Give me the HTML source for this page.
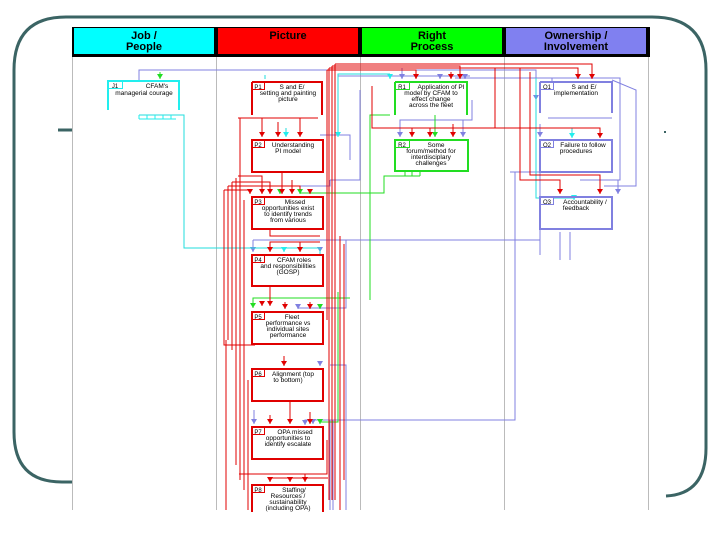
<!DOCTYPE html>
<html><head><meta charset="utf-8"><style>
html,body{margin:0;padding:0;background:#fff;width:720px;height:540px;overflow:hidden}
svg{display:block}
text{font-family:"Liberation Sans",sans-serif}
</style></head><body>
<svg width="720" height="540" viewBox="0 0 720 540" xmlns="http://www.w3.org/2000/svg">
<defs>
<marker id="ar" markerWidth="6" markerHeight="5" refX="3" refY="5" orient="0" markerUnits="userSpaceOnUse"><path d="M0,0 L6,0 L3,5z" fill="#e00000"/></marker>
<marker id="ab" markerWidth="6" markerHeight="5" refX="3" refY="5" orient="0" markerUnits="userSpaceOnUse"><path d="M0,0 L6,0 L3,5z" fill="#8080e0"/></marker>
<marker id="ag" markerWidth="6" markerHeight="5" refX="3" refY="5" orient="0" markerUnits="userSpaceOnUse"><path d="M0,0 L6,0 L3,5z" fill="#22dd22"/></marker>
<marker id="ac" markerWidth="6" markerHeight="5" refX="3" refY="5" orient="0" markerUnits="userSpaceOnUse"><path d="M0,0 L6,0 L3,5z" fill="#22eeee"/></marker>
</defs>
<!-- teal frame -->
<path d="M72,482 L62,482 Q14,482 14,432 L14,70 Q14,17 66,17 L652,17 Q706,17 706,70 L706,448 Q706,494 666,496" fill="none" stroke="#3b6464" stroke-width="3"/>
<line x1="58" y1="130" x2="72" y2="130" stroke="#3b6464" stroke-width="3"/>
<rect x="664" y="131" width="2" height="2" fill="#3b6464"/>
<!-- image area -->
<rect x="72" y="27" width="578" height="483" fill="#fff"/>
<g stroke="#bbbbbb" stroke-width="1">
<line x1="72.5" y1="56" x2="72.5" y2="510"/><line x1="216.5" y1="56" x2="216.5" y2="510"/><line x1="360.5" y1="56" x2="360.5" y2="510"/><line x1="504.5" y1="56" x2="504.5" y2="510"/><line x1="648.5" y1="56" x2="648.5" y2="510"/>
</g>
<rect x="72" y="27" width="578" height="30" fill="#000"/>
<rect x="74" y="28" width="140" height="26" fill="#00ffff"/>
<rect x="218" y="28" width="140" height="26" fill="#ff0000"/>
<rect x="362" y="28" width="140" height="26" fill="#00ff00"/>
<rect x="506" y="28" width="140" height="26" fill="#8080f0"/>
<g font-size="11" text-anchor="middle" fill="#000" font-weight="bold">
<text x="144" y="39">Job /</text><text x="144" y="50">People</text>
<text x="288" y="39">Picture</text>
<text x="432" y="39">Right</text><text x="432" y="50">Process</text>
<text x="576" y="39">Ownership /</text><text x="576" y="50">Involvement</text>
</g>

<!-- connectors: blue -->
<g fill="none" stroke="#8080e0" stroke-width="1">
<path d="M139,80 L139,70 L536,70 L536,100" marker-end="url(#ab)"/>
<path d="M402,68 L402,79" marker-end="url(#ab)"/>
<path d="M440,74 L440,79" marker-end="url(#ab)"/>
<path d="M455,78 L465,78 L465,79" marker-end="url(#ab)"/>
<path d="M465,78 L620,78 L620,180 L580,180"/>
<path d="M552,78 L552,82" />
<path d="M472,100 L472,120 L400,120 L400,137" marker-end="url(#ab)"/>
<path d="M463,120 L463,137" marker-end="url(#ab)"/>
<path d="M338,82 L338,76 L470,76"/>
<path d="M320,135 L350,135 L350,160"/>
<path d="M540,124 L540,137" marker-end="url(#ab)"/>
<path d="M618,180 L618,194" marker-end="url(#ab)"/>
<path d="M510,172 L540,172 L540,230 L540,255"/>
<path d="M515,172 L515,420 L305,420 L305,425" marker-end="url(#ab)"/>
<path d="M253,240 L540,240"/>
<path d="M253,240 L253,252" marker-end="url(#ab)"/>
<path d="M320,248 L320,252" marker-end="url(#ab)"/>
<path d="M346,240 L346,308 L298,308" />
<path d="M298,306 L298,309" marker-end="url(#ab)"/>
<path d="M330,365 L346,365 L346,510"/><path d="M320,365 L320,366" marker-end="url(#ab)"/>
<path d="M330,420 L330,510"/><path d="M333,420 L333,510"/>
<path d="M313,420 L313,424" marker-end="url(#ab)"/>
<path d="M254,410 L254,424" marker-end="url(#ab)"/>
<path d="M287,186 L330,186 L330,180"/>
<path d="M360,90 L360,180 L330,180"/>
<path d="M604,186 L636,186 L636,90 L612,80"/>
<path d="M560,232 L560,260"/><path d="M570,232 L570,260"/>
</g>
<!-- cyan -->
<g fill="none" stroke="#22dddd" stroke-width="1">
<path d="M139,115 L184,115 L184,248 L320,248 L320,256"/>
<path d="M265,75 L265,79"/>
<path d="M390,74 L390,79" marker-end="url(#ac)"/>
<path d="M390,74 L338,74 L338,137" marker-end="url(#ac)"/>
<path d="M286,128 L286,137" marker-end="url(#ac)"/>
<path d="M536,78 L536,198 L574,198 L574,200" marker-end="url(#ac)"/>
<path d="M572,128 L572,138" marker-end="url(#ac)"/>
<path d="M284,248 L284,252" marker-end="url(#ac)"/>
</g>
<!-- green -->
<g fill="none" stroke="#22dd22" stroke-width="1">
<path d="M160,72 L160,79" marker-end="url(#ag)"/>
<path d="M390,115 L370,115 L370,300"/>
<path d="M435,115 L435,137" marker-end="url(#ag)"/>
<path d="M395,176 L384,176 L384,193 L300,193"/>
<path d="M300,191 L300,194" marker-end="url(#ag)"/>
<path d="M280,190 L280,194" marker-end="url(#ag)"/>
<path d="M350,298 L253,298 L253,308" marker-end="url(#ag)"/>
<path d="M320,306 L320,309" marker-end="url(#ag)"/>
<path d="M338,292 L338,422 L320,422 L320,424" marker-end="url(#ag)"/>
</g>
<!-- red -->
<g fill="none" stroke="#e00000" stroke-width="1">
<path d="M329,68 L329,500"/><path d="M332,66 L332,500"/><path d="M335,64 L335,500"/><path d="M327,70 L327,320"/>
<path d="M329,68 L578,68 L578,79" marker-end="url(#ar)"/>
<path d="M332,66 L460,66 L460,79" marker-end="url(#ar)"/>
<path d="M335,64 L592,64 L592,79" marker-end="url(#ar)"/>
<path d="M327,70 L416,70 L416,79" marker-end="url(#ar)"/>
<path d="M451,72 L451,79" marker-end="url(#ar)"/>
<path d="M495,68 L495,128"/>
<path d="M372,86 L372,128 L600,128 L600,138" marker-end="url(#ar)"/>
<path d="M412,128 L412,137" marker-end="url(#ar)"/>
<path d="M430,128 L430,137" marker-end="url(#ar)"/>
<path d="M453,124 L453,137" marker-end="url(#ar)"/>
<path d="M520,68 L520,180 L560,180 L560,194" marker-end="url(#ar)"/>
<path d="M530,72 L530,175 L600,175 L600,194" marker-end="url(#ar)"/>
<path d="M240,118 L240,160"/>
<path d="M238,118 L300,118 L300,125 L300,137" marker-end="url(#ar)"/>
<path d="M262,118 L262,137" marker-end="url(#ar)"/>
<path d="M278,122 L278,137" marker-end="url(#ar)"/>
<path d="M282,172 L282,194" marker-end="url(#ar)"/>
<path d="M238,176 L262,176 L262,194" marker-end="url(#ar)"/>
<path d="M232,182 L270,182 L270,194" marker-end="url(#ar)"/>
<path d="M228,186 L300,186 L300,190"/>
<path d="M224,190 L250,190 L250,194" marker-end="url(#ar)"/>
<path d="M292,180 L292,194" marker-end="url(#ar)"/>
<path d="M310,190 L310,194" marker-end="url(#ar)"/>
<path d="M224,190 L224,345 L255,345"/>
<path d="M228,186 L228,340"/><path d="M232,182 L232,350"/><path d="M236,178 L236,465"/>
<path d="M240,160 L240,480"/><path d="M244,200 L244,490"/>
<path d="M226,340 L226,510"/><path d="M248,380 L248,510"/>
<path d="M270,229 L270,236 L320,236"/>
<path d="M320,242 L270,242 L270,252" marker-end="url(#ar)"/>
<path d="M300,242 L300,252" marker-end="url(#ar)"/>
<path d="M340,236 L340,510"/><path d="M344,244 L344,480"/>
<path d="M270,286 L270,306" marker-end="url(#ar)"/>
<path d="M262,302 L262,306" marker-end="url(#ar)"/>
<path d="M285,302 L285,309" marker-end="url(#ar)"/>
<path d="M310,302 L310,309" marker-end="url(#ar)"/>
<path d="M284,356 L284,366" marker-end="url(#ar)"/>
<path d="M290,401 L290,424" marker-end="url(#ar)"/>
<path d="M270,415 L270,424" marker-end="url(#ar)"/>
<path d="M310,412 L310,424" marker-end="url(#ar)"/>
<path d="M239,474 L327,474 L327,440"/>
<path d="M328,478 L270,478 L270,482" marker-end="url(#ar)"/>
<path d="M290,478 L290,482" marker-end="url(#ar)"/>
<path d="M305,474 L305,482" marker-end="url(#ar)"/>
</g>

<!-- nodes -->
<g fill="none" stroke-width="2">
<path d="M108,110 L108,81 L179,81 L179,110" stroke="#22eeee"/>
<path d="M252,82 L252,115 M252,82 L322,82 L322,115" stroke="#e00000"/>
<path d="M395,82 L395,115 M395,82 L467,82 L467,115" stroke="#22dd22"/>
<path d="M540,82 L540,113 M540,82 L612,82 L612,113" stroke="#8080e0"/>
<rect x="252" y="140" width="71" height="32" stroke="#e00000"/>
<rect x="395" y="140" width="73" height="31" stroke="#22dd22"/>
<rect x="540" y="140" width="72" height="32" stroke="#8080e0"/>
<rect x="252" y="197" width="71" height="32" stroke="#e00000"/>
<rect x="540" y="197" width="72" height="32" stroke="#8080e0"/>
<rect x="252" y="255" width="71" height="31" stroke="#e00000"/>
<rect x="252" y="312" width="71" height="32" stroke="#e00000"/>
<rect x="252" y="369" width="71" height="32" stroke="#e00000"/>
<rect x="252" y="427" width="71" height="32" stroke="#e00000"/>
<path d="M252,512 L252,485 L323,485 L323,512" stroke="#e00000"/>
</g>
<g fill="#fff" stroke-width="1">
<rect x="108.5" y="81.5" width="14" height="7" stroke="#22eeee"/>
<rect x="252.5" y="82.5" width="12" height="7" stroke="#e00000"/>
<rect x="395.5" y="82.5" width="14" height="7" stroke="#22dd22"/>
<rect x="540.5" y="82.5" width="13" height="7" stroke="#8080e0"/>
<rect x="252.5" y="140.5" width="12" height="7" stroke="#e00000"/>
<rect x="395.5" y="140.5" width="14" height="7" stroke="#22dd22"/>
<rect x="540.5" y="140.5" width="13" height="7" stroke="#8080e0"/>
<rect x="252.5" y="197.5" width="12" height="7" stroke="#e00000"/>
<rect x="540.5" y="197.5" width="13" height="7" stroke="#8080e0"/>
<rect x="252.5" y="255.5" width="12" height="7" stroke="#e00000"/>
<rect x="252.5" y="312.5" width="12" height="7" stroke="#e00000"/>
<rect x="252.5" y="369.5" width="12" height="7" stroke="#e00000"/>
<rect x="252.5" y="427.5" width="12" height="7" stroke="#e00000"/>
<rect x="252.5" y="485.5" width="12" height="7" stroke="#e00000"/>
</g>
<!-- output stubs -->
<g stroke-width="1" fill="none">
<path d="M139,115 L139,119 M147,115 L147,119 M155,115 L155,119 M163,115 L163,119 M171,115 L171,119 M139,119 L176,119" stroke="#22eeee"/>
<path d="M238,118 L258,118 M262,118 L318,118" stroke="#e00000"/>
<path d="M395,171 L420,171 M405,171 L405,176 M412,171 L412,176 M420,171 L420,176 M395,176 L420,176" stroke="#22dd22"/>
<path d="M548,118 L612,118" stroke="#8080e0"/>
</g>
<g font-size="6.5" fill="#000" text-anchor="middle">
<text x="115" y="88" font-size="6">J1</text><text x="157" y="88">CFAM's</text><text x="144" y="95">managerial courage</text>
<text x="258" y="89" font-size="6">P1</text><text x="292" y="89">S and E/</text><text x="288" y="95">setting and painting</text><text x="288" y="101">picture</text>
<text x="402" y="89" font-size="6">R1</text><text x="441" y="89">Application of PI</text><text x="431" y="95">model by CFAM to</text><text x="431" y="101">effect change</text><text x="431" y="107">across the fleet</text>
<text x="547" y="89" font-size="6">O1</text><text x="584" y="89">S and E/</text><text x="576" y="95">implementation</text>
<text x="258" y="147" font-size="6">P2</text><text x="293" y="147">Understanding</text><text x="288" y="153">PI model</text>
<text x="402" y="147" font-size="6">R2</text><text x="436" y="147">Some</text><text x="431" y="153">forum/method for</text><text x="431" y="159">interdisciplary</text><text x="431" y="165">challenges</text>
<text x="547" y="147" font-size="6">O2</text><text x="583" y="147">Failure to follow</text><text x="576" y="153">procedures</text>
<text x="258" y="204" font-size="6">P3</text><text x="295" y="204">Missed</text><text x="288" y="210">opportunities exist</text><text x="288" y="216">to identify trends</text><text x="288" y="222">from various</text>
<text x="547" y="204" font-size="6">O3</text><text x="585" y="204">Accountability /</text><text x="576" y="210">feedback</text>
<text x="258" y="262" font-size="6">P4</text><text x="294" y="262">CFAM roles</text><text x="288" y="268">and responsibilities</text><text x="288" y="274">(GOSP)</text>
<text x="258" y="319" font-size="6">P5</text><text x="292" y="319">Fleet</text><text x="288" y="325">performance vs</text><text x="288" y="331">individual sites</text><text x="288" y="337">performance</text>
<text x="258" y="376" font-size="6">P6</text><text x="293" y="376">Alignment (top</text><text x="288" y="382">to bottom)</text>
<text x="258" y="434" font-size="6">P7</text><text x="295" y="434">OPA missed</text><text x="288" y="440">opportunities to</text><text x="288" y="446">identify escalate</text>
<text x="258" y="492" font-size="6">P8</text><text x="294" y="492">Staffing/</text><text x="288" y="498">Resources /</text><text x="288" y="504">sustainability</text><text x="288" y="510">(including OPA)</text>
</g>
</svg>
</body></html>
